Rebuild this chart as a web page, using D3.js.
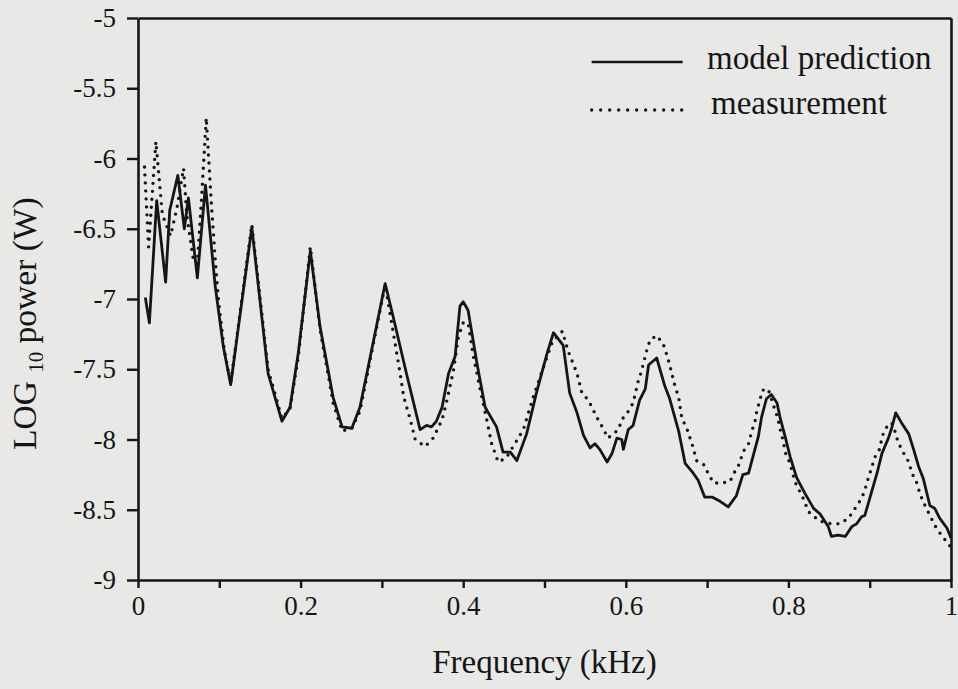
<!DOCTYPE html>
<html><head><meta charset="utf-8">
<script src="https://cdn.jsdelivr.net/npm/d3@7"></script>
<style>body{margin:0;background:#e8e8e6}svg{display:block}
text{font-family:"Liberation Serif","Times New Roman",Times,"DejaVu Serif",serif}</style>
</head><body><svg id="c" width="958" height="689"></svg>
<script>
const modelFreq = [0.009,0.014,0.023,0.034,0.039,0.049,0.057,0.062,0.073,0.083,0.095,0.105,0.114,0.140,0.160,0.177,0.187,0.197,0.212,0.224,0.240,0.251,0.263,0.273,0.285,0.304,0.314,0.331,0.347,0.355,0.361,0.367,0.374,0.382,0.390,0.396,0.400,0.406,0.417,0.427,0.441,0.449,0.458,0.466,0.478,0.490,0.503,0.511,0.523,0.531,0.540,0.548,0.556,0.562,0.568,0.577,0.583,0.589,0.595,0.597,0.603,0.609,0.617,0.624,0.628,0.638,0.648,0.654,0.665,0.673,0.683,0.689,0.697,0.706,0.716,0.726,0.736,0.744,0.751,0.757,0.763,0.767,0.773,0.779,0.786,0.790,0.796,0.802,0.810,0.820,0.831,0.839,0.849,0.853,0.861,0.870,0.878,0.884,0.890,0.894,0.902,0.909,0.915,0.923,0.927,0.932,0.939,0.948,0.954,0.960,0.966,0.974,0.980,0.986,0.995,1.000];
const modelPower = [-6.99,-7.17,-6.30,-6.88,-6.37,-6.12,-6.50,-6.28,-6.85,-6.19,-6.91,-7.34,-7.61,-6.49,-7.53,-7.87,-7.77,-7.39,-6.66,-7.20,-7.70,-7.91,-7.92,-7.77,-7.43,-6.89,-7.13,-7.55,-7.93,-7.90,-7.91,-7.87,-7.77,-7.53,-7.41,-7.05,-7.02,-7.08,-7.46,-7.77,-7.91,-8.09,-8.09,-8.15,-7.96,-7.67,-7.39,-7.24,-7.33,-7.67,-7.81,-7.97,-8.06,-8.03,-8.07,-8.16,-8.10,-7.99,-8.00,-8.07,-7.93,-7.90,-7.72,-7.64,-7.47,-7.42,-7.62,-7.71,-7.94,-8.17,-8.24,-8.29,-8.41,-8.41,-8.44,-8.48,-8.40,-8.25,-8.24,-8.11,-7.98,-7.84,-7.71,-7.68,-7.74,-7.85,-7.98,-8.12,-8.27,-8.38,-8.49,-8.53,-8.62,-8.69,-8.68,-8.69,-8.62,-8.60,-8.55,-8.54,-8.38,-8.24,-8.10,-7.99,-7.92,-7.81,-7.88,-7.96,-8.07,-8.19,-8.28,-8.47,-8.49,-8.56,-8.63,-8.70];
const measFreq = [0.008,0.013,0.022,0.030,0.040,0.048,0.056,0.060,0.068,0.073,0.078,0.084,0.090,0.095,0.099,0.106,0.114,0.140,0.160,0.177,0.187,0.197,0.212,0.224,0.240,0.251,0.263,0.273,0.285,0.304,0.314,0.321,0.327,0.335,0.341,0.353,0.363,0.374,0.380,0.388,0.394,0.400,0.406,0.412,0.420,0.429,0.435,0.443,0.453,0.474,0.486,0.499,0.510,0.522,0.529,0.540,0.546,0.554,0.560,0.566,0.572,0.578,0.591,0.595,0.603,0.609,0.615,0.619,0.626,0.630,0.638,0.646,0.650,0.654,0.660,0.665,0.669,0.675,0.679,0.683,0.687,0.696,0.702,0.708,0.718,0.728,0.734,0.740,0.744,0.751,0.755,0.759,0.761,0.765,0.768,0.775,0.779,0.787,0.790,0.794,0.796,0.802,0.808,0.814,0.820,0.824,0.838,0.853,0.863,0.874,0.882,0.890,0.894,0.898,0.902,0.906,0.913,0.915,0.921,0.927,0.931,0.935,0.941,0.948,0.952,0.958,0.962,0.968,0.974,0.980,0.988,0.999];
const measPower = [-6.06,-6.63,-5.88,-6.40,-6.55,-6.35,-6.07,-6.40,-6.72,-6.75,-6.30,-5.71,-6.30,-6.72,-7.01,-7.36,-7.60,-6.47,-7.50,-7.85,-7.78,-7.42,-6.63,-7.22,-7.74,-7.94,-7.92,-7.80,-7.45,-6.90,-7.24,-7.48,-7.70,-7.86,-8.00,-8.05,-7.99,-7.86,-7.72,-7.51,-7.27,-7.17,-7.17,-7.39,-7.62,-7.86,-8.03,-8.16,-8.13,-7.93,-7.70,-7.48,-7.30,-7.23,-7.37,-7.53,-7.67,-7.72,-7.79,-7.86,-7.92,-7.99,-7.93,-7.86,-7.80,-7.74,-7.59,-7.52,-7.36,-7.29,-7.26,-7.32,-7.39,-7.47,-7.61,-7.70,-7.85,-7.92,-7.99,-8.06,-8.15,-8.18,-8.25,-8.31,-8.31,-8.30,-8.23,-8.17,-8.09,-8.03,-7.94,-7.87,-7.80,-7.72,-7.65,-7.64,-7.71,-7.85,-7.93,-8.02,-8.09,-8.17,-8.30,-8.37,-8.44,-8.51,-8.58,-8.60,-8.60,-8.56,-8.49,-8.42,-8.36,-8.28,-8.21,-8.13,-8.06,-7.98,-7.91,-7.88,-7.94,-8.02,-8.09,-8.16,-8.24,-8.31,-8.39,-8.47,-8.54,-8.61,-8.68,-8.76];
const xTicks = [0,0.1,0.2,0.3,0.4,0.5,0.6,0.7,0.8,0.9,1];
const xTickLabels = ["0","","0.2","","0.4","","0.6","","0.8","","1"];
const yTicks = [-9,-8.5,-8,-7.5,-7,-6.5,-6,-5.5,-5];
const yTickLabels = ["-9","-8.5","-8","-7.5","-7","-6.5","-6","-5.5","-5"];
const seriesNames = ["model prediction","measurement"];
const xTitle = "Frequency (kHz)";

const FONT = '"Liberation Serif","Times New Roman",Times,"DejaVu Serif",serif';
const INK = "#151515";
const svg = d3.select("#c");
svg.append("rect").attr("width",958).attr("height",689).attr("fill","#e8e8e6");

const L = 138, R = 951, T = 18, B = 580;
const x = d3.scaleLinear().domain([0,1]).range([L,R]);
const y = d3.scaleLinear().domain([-9,-5]).range([B,T]);

function styleAxis(g, fs){
  g.attr("font-family", FONT).attr("font-size", fs);
  g.selectAll("path.domain").attr("stroke",INK).attr("stroke-width",2.6);
  g.selectAll(".tick line").attr("stroke",INK).attr("stroke-width",2.4);
  g.selectAll(".tick text").attr("fill",INK);
}

const yAxis = svg.append("g").attr("transform",`translate(${L},0)`)
  .call(d3.axisLeft(y).tickValues(yTicks).tickSize(11).tickSizeOuter(0).tickPadding(11)
    .tickFormat((d,i)=>yTickLabels[i]));
styleAxis(yAxis, 27);

const xAxis = svg.append("g").attr("transform",`translate(0,${B})`)
  .call(d3.axisBottom(x).tickValues(xTicks).tickSize(8).tickSizeOuter(0).tickPadding(8)
    .tickFormat((d,i)=>xTickLabels[i]));
styleAxis(xAxis, 27);

const topAxis = svg.append("g").attr("transform",`translate(0,${T})`)
  .call(d3.axisTop(x).tickValues([]).tickSizeOuter(0));
styleAxis(topAxis, 26);
const rightAxis = svg.append("g").attr("transform",`translate(${R},0)`)
  .call(d3.axisRight(y).tickValues([]).tickSizeOuter(0));
styleAxis(rightAxis, 26);

const line = d3.line().x(d=>x(d[0])).y(d=>y(d[1]));
const meas = measFreq.map((f,i)=>[f,measPower[i]]);
const model = modelFreq.map((f,i)=>[f,modelPower[i]]);

svg.append("path").datum(meas).attr("d",line).attr("fill","none")
  .attr("stroke",INK).attr("stroke-width",3.4).attr("stroke-linecap","round")
  .attr("stroke-dasharray","0 8");
svg.append("path").datum(model).attr("d",line).attr("fill","none")
  .attr("stroke",INK).attr("stroke-width",2.8).attr("stroke-linejoin","round");

// legend
const lgX0 = L + (R-L)*0.558, lgX1 = L + (R-L)*0.670;
const lg = svg.append("g").attr("font-family",FONT).attr("font-size",33).attr("fill",INK);
lg.append("line").attr("x1",lgX0).attr("x2",lgX1).attr("y1",62).attr("y2",62)
  .attr("stroke",INK).attr("stroke-width",2.6);
lg.append("line").attr("x1",lgX0).attr("x2",lgX1).attr("y1",110).attr("y2",110)
  .attr("stroke",INK).attr("stroke-width",3.4).attr("stroke-linecap","round").attr("stroke-dasharray","0 9");
lg.append("text").attr("x",707).attr("y",69).text(seriesNames[0]);
lg.append("text").attr("x",711).attr("y",114).text(seriesNames[1]);

// axis titles
svg.append("text").attr("x",(L+R)/2).attr("y",673).attr("text-anchor","middle")
  .attr("font-family",FONT).attr("font-size",33).attr("fill",INK).text(xTitle);
const yt = svg.append("text").attr("transform","translate(36,450) rotate(-90)")
  .attr("font-family",FONT).attr("font-size",33.5).attr("fill",INK);
yt.append("tspan").text("LOG ");
yt.append("tspan").attr("dy",7).attr("font-size",21).text("10");
yt.append("tspan").attr("dy",-7).text(" power (W)");
</script>
</body></html>
